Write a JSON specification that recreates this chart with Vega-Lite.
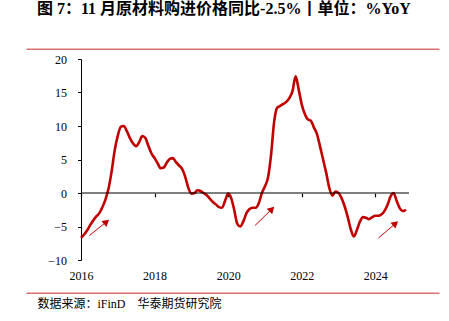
{
  "$schema": "https://vega.github.io/schema/vega-lite/v6.json",
  "autosize": "none",
  "width": 328,
  "height": 201,
  "padding": {"left": 81, "top": 59, "right": 40, "bottom": 61},
  "background": "white",
  "config": {"view": {"stroke": null}, "font": "Liberation Serif"},
  "title": {
    "text": "图 7：11 月原材料购进价格同比-2.5%丨单位：%YoY",
    "anchor": "start",
    "frame": "group",
    "dx": -44,
    "offset": 32,
    "font": "Liberation Serif, Noto Sans CJK SC",
    "fontSize": 16,
    "fontWeight": "bold",
    "color": "#000000"
  },
  "datasets": {
    "series": [
      {"date": "2016-01-01", "value": -6.7},
      {"date": "2016-02-01", "value": -6.2},
      {"date": "2016-03-01", "value": -5.6},
      {"date": "2016-04-01", "value": -4.8},
      {"date": "2016-05-01", "value": -4.1},
      {"date": "2016-06-01", "value": -3.5},
      {"date": "2016-07-01", "value": -3.0},
      {"date": "2016-08-01", "value": -2.1},
      {"date": "2016-09-01", "value": -0.9},
      {"date": "2016-10-01", "value": 0.7},
      {"date": "2016-11-01", "value": 3.3},
      {"date": "2016-12-01", "value": 6.4},
      {"date": "2017-01-01", "value": 8.6},
      {"date": "2017-02-01", "value": 9.9},
      {"date": "2017-03-01", "value": 10.0},
      {"date": "2017-04-01", "value": 9.2},
      {"date": "2017-05-01", "value": 8.2},
      {"date": "2017-06-01", "value": 7.4},
      {"date": "2017-07-01", "value": 7.0},
      {"date": "2017-08-01", "value": 7.6},
      {"date": "2017-09-01", "value": 8.5},
      {"date": "2017-10-01", "value": 8.2},
      {"date": "2017-11-01", "value": 7.0},
      {"date": "2017-12-01", "value": 5.9},
      {"date": "2018-01-01", "value": 5.2},
      {"date": "2018-02-01", "value": 4.4},
      {"date": "2018-03-01", "value": 3.7},
      {"date": "2018-04-01", "value": 3.8},
      {"date": "2018-05-01", "value": 4.5},
      {"date": "2018-06-01", "value": 5.1},
      {"date": "2018-07-01", "value": 5.2},
      {"date": "2018-08-01", "value": 4.6},
      {"date": "2018-09-01", "value": 4.1},
      {"date": "2018-10-01", "value": 3.6},
      {"date": "2018-11-01", "value": 2.4},
      {"date": "2018-12-01", "value": 0.8},
      {"date": "2019-01-01", "value": -0.1},
      {"date": "2019-02-01", "value": 0.0},
      {"date": "2019-03-01", "value": 0.4},
      {"date": "2019-04-01", "value": 0.3},
      {"date": "2019-05-01", "value": 0.0},
      {"date": "2019-06-01", "value": -0.3},
      {"date": "2019-07-01", "value": -0.8},
      {"date": "2019-08-01", "value": -1.3},
      {"date": "2019-09-01", "value": -1.7},
      {"date": "2019-10-01", "value": -2.1},
      {"date": "2019-11-01", "value": -2.2},
      {"date": "2019-12-01", "value": -1.2},
      {"date": "2020-01-01", "value": -0.1},
      {"date": "2020-02-01", "value": -0.8},
      {"date": "2020-03-01", "value": -2.5},
      {"date": "2020-04-01", "value": -4.6},
      {"date": "2020-05-01", "value": -5.0},
      {"date": "2020-06-01", "value": -4.2},
      {"date": "2020-07-01", "value": -3.0},
      {"date": "2020-08-01", "value": -2.4},
      {"date": "2020-09-01", "value": -2.2},
      {"date": "2020-10-01", "value": -2.2},
      {"date": "2020-11-01", "value": -1.5},
      {"date": "2020-12-01", "value": 0.0},
      {"date": "2021-01-01", "value": 1.0},
      {"date": "2021-02-01", "value": 2.4},
      {"date": "2021-03-01", "value": 5.5},
      {"date": "2021-04-01", "value": 10.5},
      {"date": "2021-05-01", "value": 12.7},
      {"date": "2021-06-01", "value": 13.0},
      {"date": "2021-07-01", "value": 13.3},
      {"date": "2021-08-01", "value": 13.6},
      {"date": "2021-09-01", "value": 14.2},
      {"date": "2021-10-01", "value": 15.2},
      {"date": "2021-11-01", "value": 17.4},
      {"date": "2021-12-01", "value": 15.5},
      {"date": "2022-01-01", "value": 13.2},
      {"date": "2022-02-01", "value": 11.8},
      {"date": "2022-03-01", "value": 11.0},
      {"date": "2022-04-01", "value": 10.8},
      {"date": "2022-05-01", "value": 9.8},
      {"date": "2022-06-01", "value": 8.8},
      {"date": "2022-07-01", "value": 7.0},
      {"date": "2022-08-01", "value": 5.0},
      {"date": "2022-09-01", "value": 3.0},
      {"date": "2022-10-01", "value": 0.8},
      {"date": "2022-11-01", "value": -0.4},
      {"date": "2022-12-01", "value": 0.2},
      {"date": "2023-01-01", "value": 0.0},
      {"date": "2023-02-01", "value": -0.8},
      {"date": "2023-03-01", "value": -1.9},
      {"date": "2023-04-01", "value": -3.5},
      {"date": "2023-05-01", "value": -5.3},
      {"date": "2023-06-01", "value": -6.5},
      {"date": "2023-07-01", "value": -5.6},
      {"date": "2023-08-01", "value": -4.3},
      {"date": "2023-09-01", "value": -3.6},
      {"date": "2023-10-01", "value": -3.7},
      {"date": "2023-11-01", "value": -3.9},
      {"date": "2023-12-01", "value": -3.6},
      {"date": "2024-01-01", "value": -3.4},
      {"date": "2024-02-01", "value": -3.4},
      {"date": "2024-03-01", "value": -3.2},
      {"date": "2024-04-01", "value": -2.7},
      {"date": "2024-05-01", "value": -1.8},
      {"date": "2024-06-01", "value": -0.5},
      {"date": "2024-07-01", "value": 0.0},
      {"date": "2024-08-01", "value": -1.2},
      {"date": "2024-09-01", "value": -2.3},
      {"date": "2024-10-01", "value": -2.7},
      {"date": "2024-11-01", "value": -2.5}
    ],
    "arrows": [
      {"start": "2016-03-25", "end": "2016-09-10", "v0": -6.34, "v1": -4.3, "angle": 50},
      {"start": "2020-09-25", "end": "2021-03-10", "v0": -4.84, "v1": -2.4, "angle": 45},
      {"start": "2024-02-01", "end": "2024-07-20", "v0": -6.73, "v1": -4.55, "angle": 49}
    ]
  },
  "layer": [
    {
      "data": {"name": "series"},
      "mark": {"type": "line", "color": "#C00000", "strokeWidth": 2.6, "interpolate": "monotone"},
      "encoding": {
        "x": {
          "field": "date", "type": "temporal",
          "scale": {"domain": ["2016-01-01", "2024-12-01"]},
          "axis": {
            "orient": "bottom",
            "format": "%Y",
            "values": ["2016-01-01", "2018-01-01", "2020-01-01", "2022-01-01", "2024-01-01"],
            "domain": false, "ticks": false, "grid": false,
            "labelFont": "Liberation Serif", "labelFontSize": 12, "labelColor": "#000000",
            "labelPadding": 10, "labelFlush": false,
            "title": "数据来源：iFinD　华泰期货研究院",
            "titleFont": "Liberation Serif, Noto Sans CJK SC",
            "titleFontSize": 12, "titleFontWeight": "normal", "titleColor": "#000000",
            "titleAnchor": "start", "titleAlign": "left", "titleBaseline": "middle",
            "titleX": -44, "titleY": 43
          }
        },
        "y": {
          "field": "value", "type": "quantitative",
          "scale": {"domain": [-10, 20], "nice": false, "zero": false},
          "axis": {"values": [-10, -5, 0, 5, 10, 15, 20], "labelOverlap": false, "grid": false, "domain": true, "domainColor": "#000000", "domainWidth": 1, "ticks": true, "tickColor": "#000000", "tickSize": 3.5, "labelFont": "Liberation Serif", "labelFontSize": 12, "labelColor": "#000000", "labelPadding": 11, "title": null}
        }
      }
    },
    {
      "data": {"values": [{}]},
      "mark": {"type": "rule", "color": "#000000", "strokeWidth": 1.2},
      "encoding": {
        "y": {"datum": 0, "axis": {"values": [-10, -5, 0, 5, 10, 15, 20], "labelOverlap": false, "grid": false, "domain": true, "domainColor": "#000000", "domainWidth": 1, "ticks": true, "tickColor": "#000000", "tickSize": 3.5, "labelFont": "Liberation Serif", "labelFontSize": 12, "labelColor": "#000000", "labelPadding": 11, "title": null}}
      }
    },
    {
      "data": {"name": "series"},
      "mark": {"type": "point", "opacity": 0},
      "encoding": {
        "x": {
          "field": "date", "type": "temporal",
          "axis": {
            "orient": "bottom", "offset": -66.7,
            "values": ["2016-01-01", "2018-01-01", "2020-01-01", "2022-01-01", "2024-01-01"],
            "labels": false, "domain": false, "ticks": true, "tickColor": "#000000",
            "tickSize": 3.5, "tickWidth": 1.2, "grid": false, "title": null
          }
        },
        "y": {"field": "value", "type": "quantitative", "axis": {"values": [-10, -5, 0, 5, 10, 15, 20], "labelOverlap": false, "grid": false, "domain": true, "domainColor": "#000000", "domainWidth": 1, "ticks": true, "tickColor": "#000000", "tickSize": 3.5, "labelFont": "Liberation Serif", "labelFontSize": 12, "labelColor": "#000000", "labelPadding": 11, "title": null}}
      }
    },
    {
      "data": {"name": "arrows"},
      "mark": {"type": "rule", "color": "#C00000", "strokeWidth": 1},
      "encoding": {
        "x": {"field": "start", "type": "temporal", "axis": null},
        "x2": {"field": "end"},
        "y": {"field": "v0", "type": "quantitative", "axis": {"values": [-10, -5, 0, 5, 10, 15, 20], "labelOverlap": false, "grid": false, "domain": true, "domainColor": "#000000", "domainWidth": 1, "ticks": true, "tickColor": "#000000", "tickSize": 3.5, "labelFont": "Liberation Serif", "labelFontSize": 12, "labelColor": "#000000", "labelPadding": 11, "title": null}},
        "y2": {"field": "v1"}
      }
    },
    {
      "data": {"name": "arrows"},
      "mark": {"type": "point", "shape": "triangle-up", "filled": true, "color": "#C00000", "opacity": 1, "size": 60},
      "encoding": {
        "x": {"field": "end", "type": "temporal", "axis": null},
        "y": {"field": "v1", "type": "quantitative", "axis": {"values": [-10, -5, 0, 5, 10, 15, 20], "labelOverlap": false, "grid": false, "domain": true, "domainColor": "#000000", "domainWidth": 1, "ticks": true, "tickColor": "#000000", "tickSize": 3.5, "labelFont": "Liberation Serif", "labelFontSize": 12, "labelColor": "#000000", "labelPadding": 11, "title": null}},
        "angle": {"field": "angle", "type": "quantitative", "scale": null}
      }
    },
    {
      "data": {"values": [{}]},
      "mark": {"type": "rule", "color": "#D97070", "strokeWidth": 1.5, "clip": false},
      "encoding": {
        "x": {"datum": {"year": 2014, "month": 7, "date": 9}, "axis": null},
        "x2": {"datum": {"year": 2025, "month": 9, "date": 29}},
        "y": {"datum": 21.45, "axis": {"values": [-10, -5, 0, 5, 10, 15, 20], "labelOverlap": false, "grid": false, "domain": true, "domainColor": "#000000", "domainWidth": 1, "ticks": true, "tickColor": "#000000", "tickSize": 3.5, "labelFont": "Liberation Serif", "labelFontSize": 12, "labelColor": "#000000", "labelPadding": 11, "title": null}}
      }
    },
    {
      "data": {"values": [{}]},
      "mark": {"type": "rule", "color": "#D97070", "strokeWidth": 1.5, "clip": false},
      "encoding": {
        "x": {"datum": {"year": 2014, "month": 7, "date": 9}, "axis": null},
        "x2": {"datum": {"year": 2025, "month": 9, "date": 29}},
        "y": {"datum": -14.97, "axis": {"values": [-10, -5, 0, 5, 10, 15, 20], "labelOverlap": false, "grid": false, "domain": true, "domainColor": "#000000", "domainWidth": 1, "ticks": true, "tickColor": "#000000", "tickSize": 3.5, "labelFont": "Liberation Serif", "labelFontSize": 12, "labelColor": "#000000", "labelPadding": 11, "title": null}}
      }
    }
  ],
  "resolve": {"axis": {"x": "independent", "y": "shared"}}
}
